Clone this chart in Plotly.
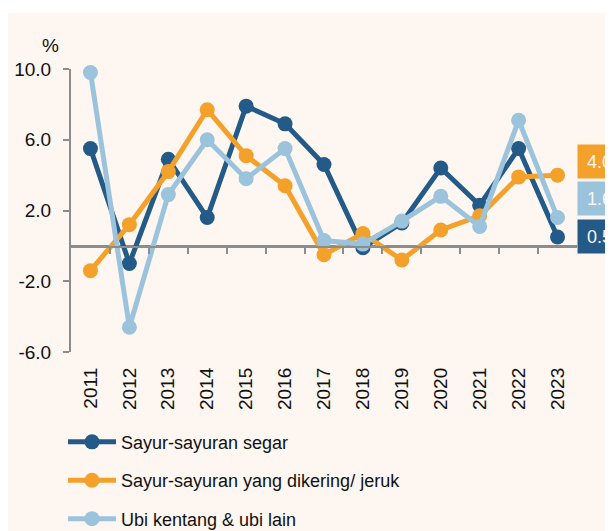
import plotly.graph_objects as go

years = ["2011", "2012", "2013", "2014", "2015", "2016", "2017", "2018", "2019", "2020", "2021", "2022", "2023"]
segar = [5.5, -1.0, 4.9, 1.6, 7.9, 6.9, 4.6, -0.1, 1.3, 4.4, 2.3, 5.5, 0.5]
dikering = [-1.4, 1.2, 4.2, 7.7, 5.1, 3.4, -0.5, 0.7, -0.8, 0.9, 1.7, 3.9, 4.0]
ubi = [9.8, -4.6, 2.9, 6.0, 3.8, 5.5, 0.3, 0.1, 1.4, 2.8, 1.1, 7.1, 1.6]
series_names = ["Sayur-sayuran segar", "Sayur-sayuran yang dikering/ jeruk", "Ubi kentang & ubi lain"]
y_ticks = [-6, -2, 2, 6, 10]
y_tick_text = [f"{v:.1f}" for v in y_ticks]
y_range = [-6, 10]

colors = ["#235A87", "#F4A12C", "#9BC3DC"]
label_shift = [1, 14, 19]
FONT = "Liberation Sans, Arial, sans-serif"
BG = "#FDF6F1"
AXIS_GREY = "#8C8C8C"

fig = go.Figure()
# empty helper trace so that the zero-line category axis (x2/y2) gets drawn
fig.add_trace(go.Scatter(x=[], y=[], xaxis="x2", yaxis="y2", showlegend=False, hoverinfo="skip"))
for i, (name, vals) in enumerate(zip(series_names, [segar, dikering, ubi])):
    fig.add_trace(go.Scatter(
        x=years, y=vals, name=name, mode="lines+markers",
        line=dict(color=colors[i], width=5),
        marker=dict(color=colors[i], size=15),
        legendgroup=f"g{i}", cliponaxis=False,
    ))
    fig.add_annotation(
        x=1, xref="paper", y=vals[-1], yref="y", xanchor="left", yanchor="middle",
        text=f"{vals[-1]:.1f}", showarrow=False, bgcolor=colors[i],
        font=dict(family=FONT, size=18, color=BG), align="left",
        width=46, height=15, borderpad=9, yshift=label_shift[i],
    )

fig.add_annotation(x=-0.0405, xref="paper", y=1.083, yref="paper", text="%", showarrow=False,
                   font=dict(family=FONT, size=19, color="#111111"), xanchor="center", yanchor="middle")

fig.add_shape(type="rect", xref="paper", yref="paper", x0=-0.1265, x1=1.1, y0=-0.7, y1=1.198,
              fillcolor=BG, line=dict(width=0), layer="below")

n = len(years)
zero_frac = (0 - y_range[0]) / (y_range[1] - y_range[0])
fig.update_layout(
    width=605, height=523,
    margin=dict(l=63, r=36, t=61, b=179, autoexpand=False),
    paper_bgcolor="white", plot_bgcolor="rgba(0,0,0,0)",
    font=dict(family=FONT, size=19, color="#111111"),
    showlegend=True,
    legend=dict(x=-0.0158, y=-0.656, xanchor="left", yanchor="bottom",
                orientation="v", tracegroupgap=12, itemwidth=48, bgcolor="rgba(0,0,0,0)",
                font=dict(family=FONT, size=18, color="#111111")),
    xaxis=dict(type="category", range=[-0.5, n - 0.5], showline=False, showgrid=False, zeroline=False,
               tickangle=-90, ticks="", ticklabelstandoff=11, tickfont=dict(size=19), automargin=False),
    xaxis2=dict(anchor="y2", side="bottom", range=[-0.5, n - 0.5], domain=[0, 1],
                showline=True, linecolor=AXIS_GREY, linewidth=2, showgrid=False, zeroline=False,
                tickvals=[k + 0.5 for k in range(n - 1)], ticks="outside", ticklen=6,
                tickcolor=AXIS_GREY, tickwidth=2, showticklabels=False, automargin=False),
    yaxis2=dict(domain=[zero_frac, 1], anchor="x2", range=[0, y_range[1]], showline=False,
                showgrid=False, zeroline=False, showticklabels=False, ticks="", automargin=False),
    yaxis=dict(range=y_range, tickvals=y_ticks, ticktext=y_tick_text, showgrid=False,
               zeroline=True, zerolinecolor=AXIS_GREY, zerolinewidth=2,
               showline=True, linecolor=AXIS_GREY, linewidth=2, ticks="outside", ticklen=6,
               tickcolor=AXIS_GREY, tickwidth=2, ticklabelstandoff=8, tickfont=dict(size=19),
               automargin=False),
)

fig.write_html("out.html")
